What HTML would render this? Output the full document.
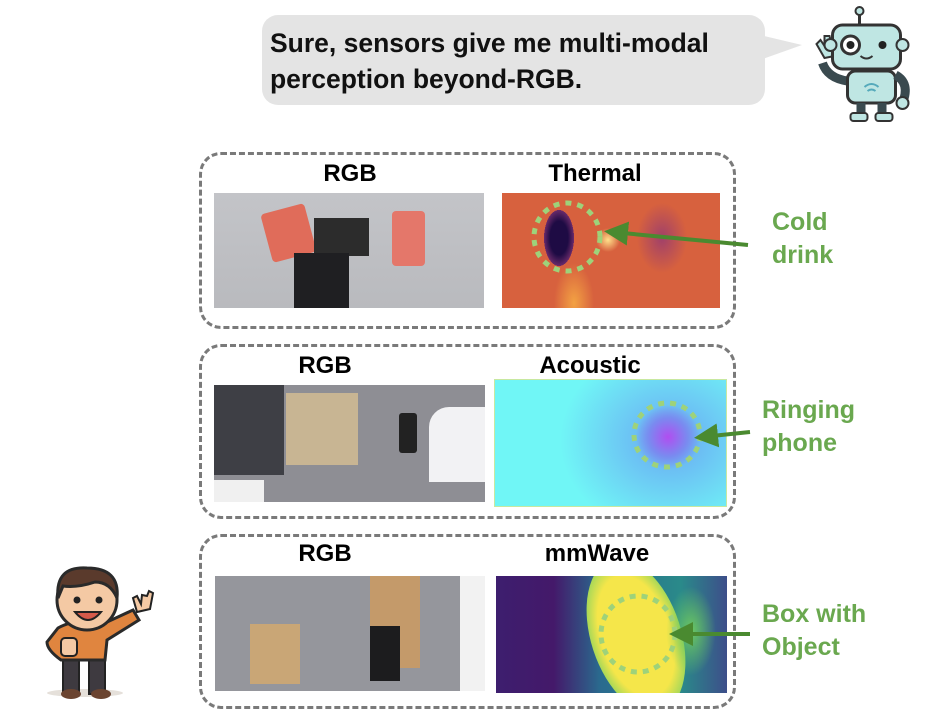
<!DOCTYPE html>
<html><head><meta charset="utf-8"><style>
body{margin:0;width:944px;height:728px;background:#fff;position:relative;overflow:hidden;font-family:"Liberation Sans",Arial,sans-serif}
.a{position:absolute}
.box{position:absolute;border:3px dashed #7a7a7a;border-radius:22px;box-sizing:border-box}
.lbl{position:absolute;font-weight:bold;font-size:24px;color:#000;text-align:center;width:200px}
.g{position:absolute;font-weight:bold;font-size:24px;color:#6aa84f;line-height:33px}
</style></head><body>
<div class="a" style="left:262px;top:15px;width:503px;height:90px;background:#e4e4e4;border-radius:16px"></div>
<svg class="a" style="left:760px;top:30px" width="50" height="40"><polygon points="0,5 42,15 0,30" fill="#e4e4e4"/></svg>
<div class="a" style="left:270px;top:25px;font-size:26.5px;font-weight:bold;line-height:36px;color:#111">Sure, sensors give me multi-modal<br>perception beyond-RGB.</div>
<svg class="a" style="left:800px;top:3px" width="125" height="125" viewBox="0 0 120 125">
<line x1="57" y1="8" x2="57" y2="22" stroke="#333" stroke-width="3"/><circle cx="57" cy="8" r="4" fill="#bfe6e3" stroke="#333" stroke-width="2"/>
<path d="M20 60 Q25 75 45 78" stroke="#3a4a4f" stroke-width="9" fill="none"/>
<path d="M22 55 l-8 -14 l4 -4 l4 6 l0 -10 l5 0 l2 8 l2 -6 l4 2 l-3 16 z" fill="#bfe6e3" stroke="#333" stroke-width="2"/>
<rect x="45" y="68" width="48" height="32" rx="8" fill="#bfe6e3" stroke="#333" stroke-width="3"/>
<path d="M93 72 Q108 80 100 100" stroke="#3a4a4f" stroke-width="9" fill="none"/>
<circle cx="100" cy="100" r="6" fill="#bfe6e3" stroke="#333" stroke-width="2"/>
<rect x="54" y="100" width="9" height="12" fill="#3a4a4f"/><rect x="75" y="100" width="9" height="12" fill="#3a4a4f"/>
<rect x="48" y="110" width="17" height="8" rx="3" fill="#bfe6e3" stroke="#333" stroke-width="2"/><rect x="73" y="110" width="17" height="8" rx="3" fill="#bfe6e3" stroke="#333" stroke-width="2"/>
<rect x="30" y="22" width="68" height="44" rx="10" fill="#bfe6e3" stroke="#333" stroke-width="3"/>
<circle cx="28" cy="42" r="6" fill="#bfe6e3" stroke="#333" stroke-width="2"/><circle cx="100" cy="42" r="6" fill="#bfe6e3" stroke="#333" stroke-width="2"/>
<circle cx="48" cy="42" r="9" fill="#fff" stroke="#333" stroke-width="3"/><circle cx="48" cy="42" r="4" fill="#222"/>
<circle cx="80" cy="42" r="4" fill="#222"/>
<path d="M58 53 Q64 58 70 53" stroke="#333" stroke-width="2" fill="none"/>
<path d="M62 84 Q69 78 76 84 M65 88 Q69 85 73 88" stroke="#5ab" stroke-width="2" fill="none"/>
</svg>
<svg class="a" style="left:25px;top:560px" width="130" height="145" viewBox="0 0 130 145">
<ellipse cx="60" cy="133" rx="38" ry="4" fill="#e5e0da"/>
<rect x="38" y="98" width="16" height="36" fill="#3e3a40" stroke="#222" stroke-width="2"/><rect x="64" y="98" width="16" height="36" fill="#3e3a40" stroke="#222" stroke-width="2"/>
<ellipse cx="46" cy="134" rx="10" ry="5" fill="#6b4430"/><ellipse cx="76" cy="134" rx="10" ry="5" fill="#6b4430"/>
<path d="M33 68 Q50 58 80 63 L108 50 L114 60 L82 80 L80 100 L36 100 Q22 90 22 82 Z" fill="#e0853f" stroke="#2a2a2a" stroke-width="3"/>
<path d="M112 52 l-4 -14 l4 -2 l4 8 l1 -9 l5 1 l2 -5 l4 2 l-3 16 z" fill="#f4c9a4" stroke="#222" stroke-width="2"/>
<rect x="36" y="78" width="16" height="18" rx="4" fill="#f4c9a4" stroke="#222" stroke-width="2"/>
<ellipse cx="62" cy="40" rx="30" ry="30" fill="#f4c9a4" stroke="#2a2a2a" stroke-width="3"/>
<path d="M33 38 Q30 6 62 8 Q95 8 92 38 Q85 22 70 22 Q52 28 38 26 Z" fill="#5a3a2c" stroke="#2a2a2a" stroke-width="3"/>
<circle cx="52" cy="40" r="3.5" fill="#222"/><circle cx="74" cy="40" r="3.5" fill="#222"/>
<path d="M50 52 Q63 68 76 52 Z" fill="#d65a4a" stroke="#222" stroke-width="2"/>
</svg>
<div class="box" style="left:199px;top:152px;width:537px;height:177px"></div>
<div class="box" style="left:199px;top:344px;width:537px;height:175px"></div>
<div class="box" style="left:199px;top:534px;width:537px;height:175px"></div>
<div class="lbl" style="left:250px;top:160px">RGB</div>
<div class="lbl" style="left:495px;top:160px">Thermal</div>
<div class="lbl" style="left:225px;top:352px">RGB</div>
<div class="lbl" style="left:490px;top:352px">Acoustic</div>
<div class="lbl" style="left:225px;top:540px">RGB</div>
<div class="lbl" style="left:497px;top:540px">mmWave</div>
<div class="a" style="left:214px;top:193px;width:270px;height:115px;background:linear-gradient(#c3c4c8,#b9babe)">
 <div class="a" style="left:52px;top:15px;width:45px;height:50px;background:#e06c5a;transform:rotate(-15deg);border-radius:4px"></div>
 <div class="a" style="left:178px;top:18px;width:33px;height:55px;background:#e4776a;border-radius:4px"></div>
 <div class="a" style="left:100px;top:25px;width:55px;height:38px;background:#2c2c2c"></div>
 <div class="a" style="left:80px;top:60px;width:55px;height:55px;background:#1f1f22"></div>
</div>
<div class="a" style="left:502px;top:193px;width:218px;height:115px;background:radial-gradient(ellipse 15px 28px at 57px 45px,#1e0b44 60%,#6a2a6a 100%,transparent),radial-gradient(ellipse 12px 12px at 106px 47px,#ffe08a,transparent),radial-gradient(ellipse 25px 35px at 160px 45px,#a0406a,transparent),radial-gradient(ellipse 20px 40px at 72px 110px,#f3a243,transparent),#d7613e"></div>
<div class="a" style="left:214px;top:385px;width:271px;height:117px;background:#8e8e94">
 <div class="a" style="left:0;top:0;width:70px;height:90px;background:#3e3f45"></div>
 <div class="a" style="left:72px;top:8px;width:72px;height:72px;background:#c8b593"></div>
 <div class="a" style="left:185px;top:28px;width:18px;height:40px;background:#222;border-radius:3px"></div>
 <div class="a" style="left:215px;top:22px;width:56px;height:75px;background:#f2f2f4;border-radius:20px 0 0 0"></div>
 <div class="a" style="left:0;top:95px;width:50px;height:22px;background:#f0f0f0"></div>
</div>
<div class="a" style="left:494px;top:379px;width:233px;height:128px;background:radial-gradient(ellipse 32px 32px at 173px 57px,#b04ef0,#7a8af0 60%,transparent),radial-gradient(ellipse 110px 95px at 175px 60px,#6aa6f2,transparent),#70f6f6;box-sizing:border-box;border:1px solid #c8e8a0"></div>
<div class="a" style="left:215px;top:576px;width:270px;height:115px;background:#95969c">
 <div class="a" style="left:35px;top:48px;width:50px;height:60px;background:#c9a676"></div>
 <div class="a" style="left:155px;top:0;width:50px;height:92px;background:#c49a6a"></div>
 <div class="a" style="left:155px;top:50px;width:30px;height:55px;background:#1c1c1e"></div>
 <div class="a" style="left:245px;top:0;width:25px;height:115px;background:#f2f2f2"></div>
</div>
<div class="a" style="left:496px;top:576px;width:231px;height:117px;overflow:hidden;background:linear-gradient(90deg,#3d1e6e,#44196a 25%,#2a6a8e 45%,#2a8a8a 80%,#3d4e8a)">
 <div class="a" style="left:95px;top:-20px;width:90px;height:160px;border-radius:50%;background:radial-gradient(ellipse at center,#f5e64a 55%,#7bd060 80%,rgba(60,160,120,0) 100%);transform:rotate(-18deg)"></div>
 <div class="a" style="left:170px;top:10px;width:50px;height:90px;border-radius:50%;background:radial-gradient(#6cc860,rgba(60,160,120,0) 70%)"></div>
</div>
<svg class="a" style="left:0;top:0" width="944" height="728">
<defs><marker id="m" markerWidth="6" markerHeight="6" refX="4" refY="3" orient="auto"><path d="M0,0 L6,3 L0,6 Z" fill="#4a8a30"/></marker></defs>
<g fill="none" stroke="#9ed27a" stroke-width="5" stroke-dasharray="6 6">
<ellipse cx="567" cy="237" rx="33" ry="34"/>
<ellipse cx="667" cy="435" rx="33" ry="32"/>
<ellipse cx="638" cy="634" rx="37" ry="38"/>
</g>
<g stroke="#4a8a30" stroke-width="4" marker-end="url(#m)">
<line x1="748" y1="245" x2="612" y2="232"/>
<line x1="750" y1="432" x2="702" y2="437"/>
<line x1="750" y1="634" x2="677" y2="634"/>
</g>
</svg>
<div class="g" style="left:772px;top:206px;font-size:25px">Cold<br>drink</div>
<div class="g" style="left:762px;top:394px;font-size:25px">Ringing<br>phone</div>
<div class="g" style="left:762px;top:598px;font-size:25px">Box with<br>Object</div>
</body></html>
